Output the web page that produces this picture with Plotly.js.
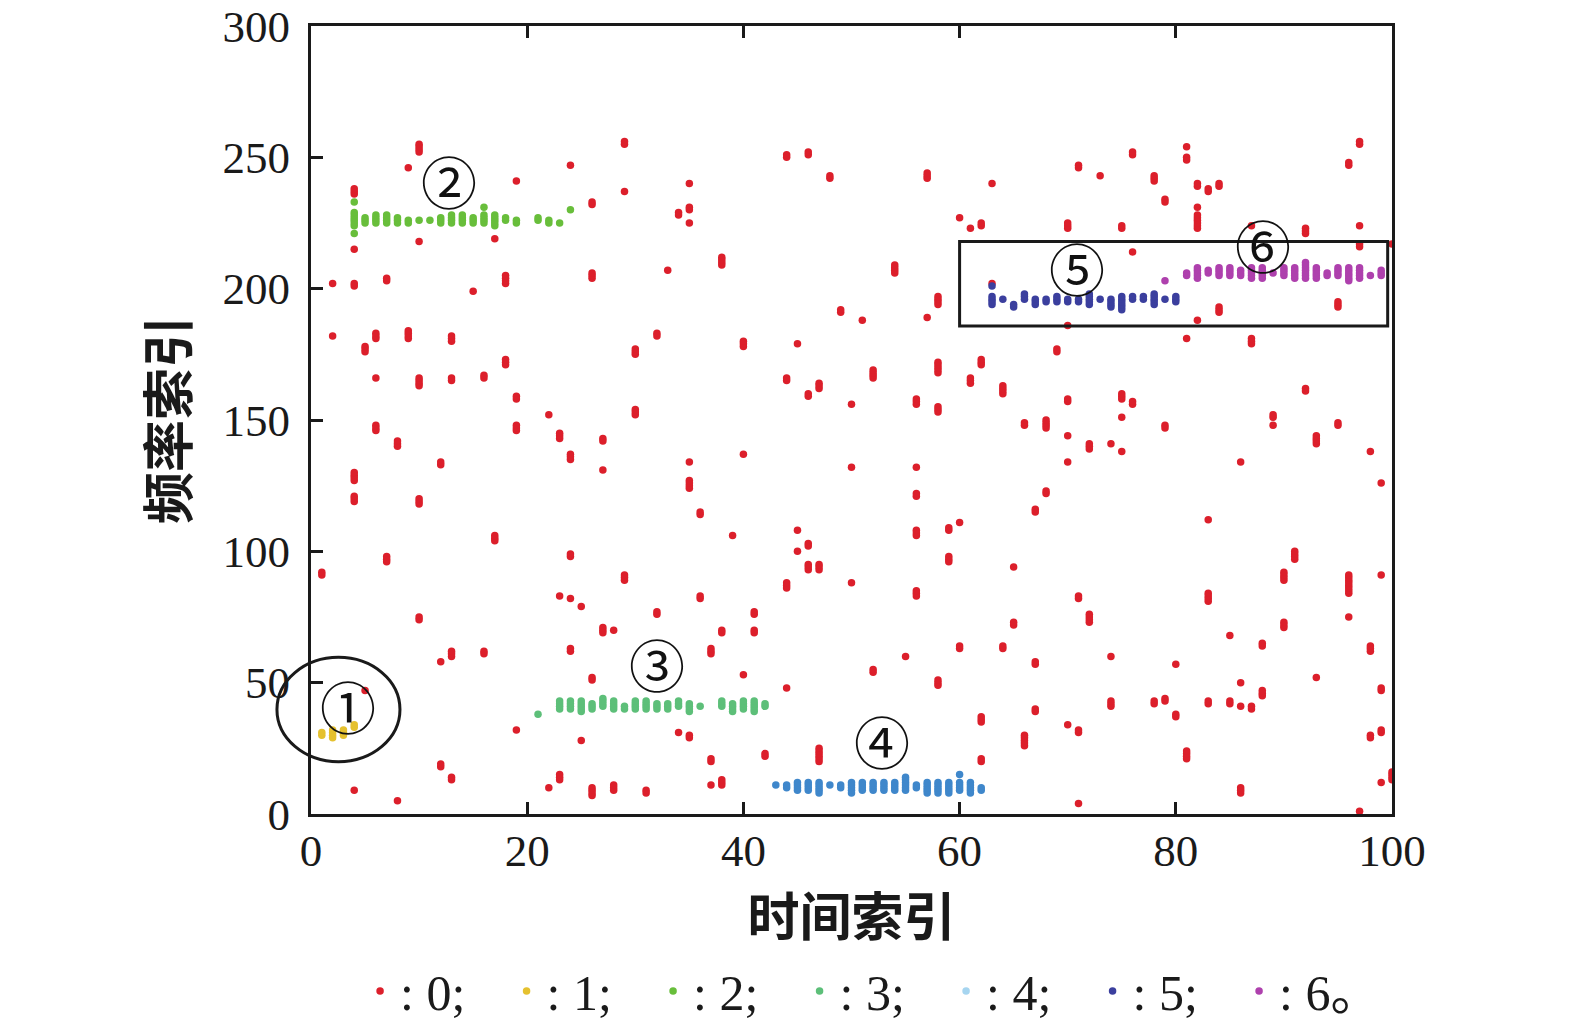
<!DOCTYPE html>
<html><head><meta charset="utf-8">
<script src="https://cdn.plot.ly/plotly-3.0.1.min.js"></script>
<style>html,body{margin:0;padding:0;background:#fff}#chart{width:1575px;height:1021px}</style>
</head><body><div id="chart"></div>
<script>
// Each row: [time index, frequency index values...]
const cls0 = [
[1,91,92],[2,182],[2,202],
[4,9],[4,119,120,121],[4,127,128,129,130],[4,201,202],[4,215],[4,236,237,238],
[5,47],[5,176,177,178],[6,146,147,148],[6,166],[6,181,182,183],
[7,96,97,98],[7,203,204],[8,5],[8,140,141,142],[9,181,182,183,184],[9,246],
[10,74,75],[10,118,119,120],[10,163,164,165,166],[10,218],[10,252,253,254,255],
[12,18,19],[12,58],[12,133,134],[13,13,14],[13,60,61,62],[13,165,166],[13,180,181,182],
[15,199],[16,61,62],[16,166,167],[17,104,105,106],[17,219],
[18,171,172,173],[18,202,203,204,205],[19,32],[19,146,147,148],[19,158,159],[19,241],
[22,10],[22,152],[23,13,14,15],[23,83],[23,143,144,145],
[24,62,63],[24,82],[24,98,99],[24,135,136,137],[24,247],[25,28],[25,79],
[26,7,8,9,10],[26,51,52],[26,204,205,206],[26,232,233],[27,69,70,71],[27,131],[27,142,143],
[28,9,10,11],[28,70],[29,89,90,91],[29,237],[29,255,256],[30,152,153,154],[30,175,176,177],
[31,8,9],[32,76,77],[32,182,183],[33,207],[34,31],[34,228,229],
[35,29,30],[35,124,125,126,127],[35,134],[35,225],[35,230,231],[35,240],
[36,82,83],[36,114,115],[37,11],[37,20,21],[37,61,62,63],
[38,11,12,13],[38,69,70],[38,209,210,211,212],[39,106],[40,53],[40,137],[40,178,179,180],
[41,69,70],[41,76,77],[42,22,23],[44,48],[44,86,87,88],[44,165,166],[44,250,251],
[45,100],[45,108],[45,179],[46,93,94,95],[46,102,103],[46,159,160],[46,251,252],
[47,20,21,22,23,24,25],[47,93,94,95],[47,162,163,164],[48,242,243],[49,191,192],
[50,88],[50,132],[50,156],[51,188],[52,54,55],[52,166,167,168,169],[54,206,207,208,209],[55,60],
[56,83,84,85],[56,106,107,108],[56,121,122],[56,132],[56,156,157,158],[57,189],[57,242,243,244],
[58,49,50,51],[58,153,154,155],[58,168,169,170,171,172],[58,194,195,196,197],
[59,96,97,98],[59,108,109],[60,63,64],[60,111],[60,227],[61,164,165,166],[61,223],
[62,20,21],[62,35,36,37],[62,171,172,173],[62,224,225],[63,202],[63,240],
[64,63,64],[64,160,161,162,163],[65,72,73],[65,94],[66,26,27,28,29,30],[66,148,149],
[67,39,40],[67,57,58],[67,115,116],[68,122,123],[68,147,148,149,150],[69,176,177],
[70,34],[70,134],[70,144],[70,157,158],[70,186],[70,223,224,225],
[71,4],[71,31,32],[71,82,83],[71,246,247],[72,73,74,75,76],[72,139,140,141],[73,243],
[74,41,42,43],[74,60],[74,141],[75,138],[75,151],[75,158,159,160],[75,223,224],
[76,156,157],[76,214],[76,251,252],[78,42,43],[78,241,242,243],
[79,43,44],[79,147,148],[79,233,234],[80,37,38],[80,57],
[81,21,22,23,24],[81,181],[81,249,250],[81,254],[82,188],[82,223,224,225,226,227,228,231],[82,239,240],
[83,42,43],[83,81,82,83,84],[83,112],[83,237,238],[84,191,192,193],[84,239,240],
[85,42,43],[85,68],[86,8,9,10],[86,41],[86,50],[86,134],[87,40,41],[87,179,180,181],[87,224],
[88,45,46,47],[88,64,65],[89,148],[89,151,152],[90,71,72,73],[90,89,90,91,92],[91,97,98,99,100],
[92,161,162],[92,221,222,223],[93,52],[93,141,142,143,144],[95,148,149],[95,193,194,195],
[96,75],[96,84,85,86,87,88,89,90,91],[96,247,248],[97,1],[97,216,217],[97,224],[97,255,256],
[98,29,30],[98,62,63,64],[98,138],[99,12],[99,31,32],[99,47,48],[99,91],[99,126],
[100,13,14,15,16],[100,217]
];
const cls1 = [[1,30,31],[2,29,30,31,32],[3,30,31,32],[4,33,34]];
const cls2 = [[4,221,224,225,226,227,228,229,233],[5,225,226,227],[6,225,226,227,228],[7,225,226,227,228],
[8,225,226,227],[9,225,226],[10,226],[11,226],[12,225,226,227],[13,225,226,227,228],[14,225,226,227,228],
[15,225,226,227],[16,225,226,227,228,231],[17,224,225,226,227,228],[18,226,227],[19,225,226],
[21,226,227],[22,225,226],[23,225],[24,230]];
const cls3 = [[21,38],[23,40,41,42,43],[24,40,41,42,43],[25,39,40,41,42,43],[26,40,41,42],[27,41,42,43,44],
[28,40,41,42,43],[29,40,41],[30,40,41,42,43],[31,40,41,42,43],[32,40,41,42],[33,40,41,42],[34,41,42,43],
[35,39,40,41,42],[36,41],[38,41,42,43],[39,39,40,41,42],[40,40,41,42,43],[41,39,40,41,42,43],[42,41,42]];
const cls4 = [[43,11],[44,10,11],[45,9,10,11,12],[46,9,10,11,12],[47,8,9,10,11,12],[48,11],[49,10,11],
[50,8,9,10,11,12],[51,9,10,11,12],[52,9,10,11,12],[53,9,10,11,12],[54,9,10,11,12],[55,9,10,11,12,13,14],
[56,10,11],[57,8,9,10,11,12],[58,8,9,10,11,12],[59,8,9,10,11,12],[60,9,10,11,12,15],[61,8,9,10,11,12],[62,9,10]];
const cls5 = [[63,194,195,196,197,201],[64,196],[65,193,194],[66,196,197,198],[67,194,195,196],[68,195,196],
[69,195,196,197],[70,195,196],[71,195,196],[72,194,195,196,197,198],[73,196],[74,193,194,195,196],
[75,192,193,194,195,196,197],[76,196,197],[77,196,197],[78,194,195,196,197,198],[79,196],[80,195,196,197]];
const cls6 = [[79,203],[81,205,206],[82,204,205,206,207,208],[83,206,207],[84,205,206,207,208],[85,205,206,207,208],
[86,205,206,207],[87,204,205,206,207,208],[88,204,205,206,207,208],[89,206],[90,205,206,207,208],
[91,204,205,206,207,208],[92,204,205,206,207,208,209,210],[93,204,205,206,207,208],[94,205,206],
[95,205,206,207,208],[96,203,204,205,206,207,208],[97,204,205,206,207,208],[98,205],[99,205,206,207]];

const legendNames = [': 0;', ': 1;', ': 2;', ': 3;', ': 4;', ': 5;', ': 6。'];
const legendColors = ['#dc1f2b', '#e5c12f', '#68be3b', '#5dbf79', '#a6d5f0', '#3b3f9e', '#ae40ad'];
const cluster4Color = '#3f87cb';
const xTicks = [0, 20, 40, 60, 80, 100];
const yTicks = [0, 50, 100, 150, 200, 250, 300];
const labelTexts = ['①', '②', '③', '④', '⑤', '⑥'];
const labelX = [3.4, 12.8, 32.0, 52.8, 70.9, 88.1];
const labelY = [41.5, 241.5, 57.5, 28.2, 208.4, 217.3];

function flat(rows) {
  const xs = [], ys = [];
  rows.forEach(r => { for (let i = 1; i < r.length; i++) { xs.push(r[0]); ys.push(r[i]); } });
  return {xs, ys};
}
function tr(rows, name, color, showlegend) {
  const d = flat(rows);
  return {type: 'scatter', mode: 'markers', x: d.xs, y: d.ys, name: name, showlegend: showlegend,
    marker: {size: 7.5, color: color, line: {width: 0}}, hoverinfo: 'x+y'};
}
const serif = 'Liberation Serif, Times New Roman, serif';
const cjk = 'Noto Sans CJK SC, sans-serif';

const traces = [
  tr(cls0, legendNames[0], legendColors[0], true),
  tr(cls1, legendNames[1], legendColors[1], true),
  tr(cls2, legendNames[2], legendColors[2], true),
  tr(cls3, legendNames[3], legendColors[3], true),
  {type: 'scatter', mode: 'markers', x: [null], y: [null], name: legendNames[4], showlegend: true,
   marker: {size: 7.5, color: legendColors[4]}},
  tr(cls4, legendNames[4], cluster4Color, false),
  tr(cls5, legendNames[5], legendColors[5], true),
  tr(cls6, legendNames[6], legendColors[6], true)
];

const annotations = labelTexts.map((t, i) => ({
  x: labelX[i], y: labelY[i], xref: 'x', yref: 'y', text: t, showarrow: false,
  font: {family: cjk, size: 56, color: '#111'}, xanchor: 'center', yanchor: 'middle'
}));

const layout = {
  width: 1575, height: 1021,
  margin: {l: 311, r: 183, t: 26, b: 207, autoexpand: false},
  paper_bgcolor: '#fff', plot_bgcolor: '#fff',
  showlegend: true,
  xaxis: {
    range: [0, 100], tickvals: xTicks, ticktext: xTicks.map(String), automargin: false,
    ticks: 'inside', ticklen: 12, tickwidth: 3, tickcolor: '#1a1a1a',
    showline: true, linewidth: 3, linecolor: '#1a1a1a', mirror: 'ticks',
    showgrid: false, zeroline: false, ticklabelstandoff: -5,
    tickfont: {family: serif, size: 45, color: '#1a1a1a'},
    title: {text: '时间索引', font: {family: cjk, size: 52, color: '#1a1a1a', weight: 'bold'}, standoff: 24}
  },
  yaxis: {
    range: [0, 300], tickvals: yTicks, ticktext: yTicks.map(String), automargin: false,
    ticks: 'inside', ticklen: 12, tickwidth: 3, tickcolor: '#1a1a1a',
    showline: true, linewidth: 3, linecolor: '#1a1a1a', mirror: true,
    showgrid: false, zeroline: false, ticklabelstandoff: 9,
    tickfont: {family: serif, size: 45, color: '#1a1a1a'},
    title: {text: '频率索引', font: {family: cjk, size: 52, color: '#1a1a1a', weight: 'bold'}, standoff: 18}
  },
  legend: {
    orientation: 'h', x: 0.0454, xanchor: 'left', y: -0.2246, yanchor: 'middle',
    entrywidth: 101.5, entrywidthmode: 'pixels',
    font: {family: serif + ', Noto Sans CJK SC', size: 50, color: '#1a1a1a'},
    bgcolor: 'rgba(0,0,0,0)', borderwidth: 0, tracegroupgap: 0
  },
  shapes: [
    {type: 'rect', xref: 'x', yref: 'y', x0: 60, x1: 99.6, y0: 185.8, y1: 218,
     line: {color: '#1a1a1a', width: 3}, fillcolor: 'rgba(0,0,0,0)'},
    {type: 'circle', xref: 'paper', yref: 'paper', x0: -0.0315, x1: 0.0823, y0: 0.0664, y1: 0.1989,
     line: {color: '#1a1a1a', width: 3}, fillcolor: 'rgba(0,0,0,0)'}
  ],
  annotations: annotations
};
Plotly.newPlot('chart', traces, layout, {staticPlot: true, displayModeBar: false});
</script></body></html>
